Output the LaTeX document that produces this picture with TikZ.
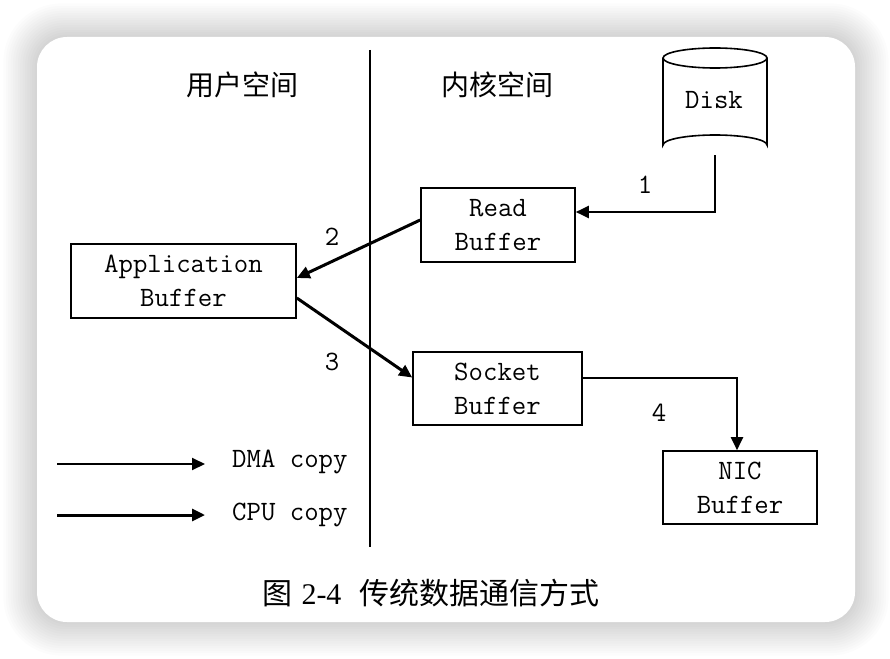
\documentclass[tikz,border=0pt]{standalone}
\usepackage{fontspec}
\newfontfamily\cjk{Noto Sans CJK SC}
\newfontfamily\serf{Liberation Serif}
\usetikzlibrary{arrows.meta,calc}
\tikzset{
  buf/.style={draw, line width=1.6pt, inner sep=0pt, align=center,
    font=\ttfamily\fontsize{28}{34}\selectfont},
  lbl/.style={font=\ttfamily\fontsize{28}{34}\selectfont, inner sep=0pt},
  dmaarrow/.style={line width=2pt, -{Triangle[length=13pt,width=12pt]}},
  cpuarrow/.style={line width=3pt, -{Triangle[length=13pt,width=12pt]}},
  spacelbl/.style={font=\cjk\fontsize{28}{30}\selectfont, inner sep=0pt},
}
\begin{document}
\begin{tikzpicture}[x=1pt,y=-1pt]
\useasboundingbox (0,0) rectangle (890,658);
\fill[white] (0,0) rectangle (890,658);
% shadow
\foreach \i in {1,...,14}{
  \fill[black, opacity=0.011, rounded corners=30+\i*2]
    (37-\i*2.4,37-\i*2.4) rectangle (855+\i*2.4,622+\i*2.4);
}
\fill[white, rounded corners=30] (37,37) rectangle (855,622);
% divider
\draw[line width=2pt] (370,50) coordinate (d1) -- (370,547) coordinate (d2);
\node[spacelbl] (us) at (242,85) {用户空间};
\node[spacelbl] (ks) at (497,85) {内核空间};
% disk
\draw[line width=1.6pt] (663,58) -- (663,145) arc[start angle=180,end angle=360,x radius=52,y radius=10] -- (767,58);
\draw[line width=1.6pt] (715,58) ellipse[x radius=52,y radius=10];
\coordinate (diskb) at (715,155);
\node[lbl] (disk) at (714,100) {Disk};
% buffers
\node[buf, minimum width=154pt, minimum height=74pt] (read) at (498,225) {Read\\Buffer};
\node[buf, minimum width=225pt, minimum height=74pt] (app) at (183.5,281) {Application\\Buffer};
\node[buf, minimum width=169pt, minimum height=73pt] (sock) at (497.5,388.5) {Socket\\Buffer};
\node[buf, minimum width=154pt, minimum height=73pt] (nic) at (740,487.5) {NIC\\Buffer};
% connectors
\draw[dmaarrow] (diskb) |- ([yshift=13pt]read.east);
\draw[cpuarrow] ([yshift=5pt]read.west) -- ([yshift=3pt]app.east);
\draw[cpuarrow] ([yshift=-17pt]app.east) -- ([yshift=11pt]sock.west);
\draw[dmaarrow] ([yshift=11pt]sock.east) -| ([xshift=-3pt]nic.north);
\node[lbl] (n1) at (645,185) {1};
\node[lbl] (n2) at (332,237) {2};
\node[lbl] (n3) at (332,362) {3};
\node[lbl] (n4) at (659,413) {4};
% legend
\coordinate (la1) at (57,464);
\coordinate (la2) at (205,464);
\coordinate (lb1) at (57,515);
\coordinate (lb2) at (205,515);
\draw[dmaarrow] (la1) -- (la2);
\draw[cpuarrow] (lb1) -- (lb2);
\node[lbl, anchor=west] (dmal) at (232,462) {DMA copy};
\node[lbl, anchor=west] (cpul) at (232,515) {CPU copy};
% caption
\node[inner sep=0pt, font=\fontsize{30}{32}\selectfont] (cap) at (431,593)
  {\cjk 图\hspace{0.3em}\serf 2-4\hspace{0.6em}\cjk 传统数据通信方式};
\end{tikzpicture}
\end{document}
